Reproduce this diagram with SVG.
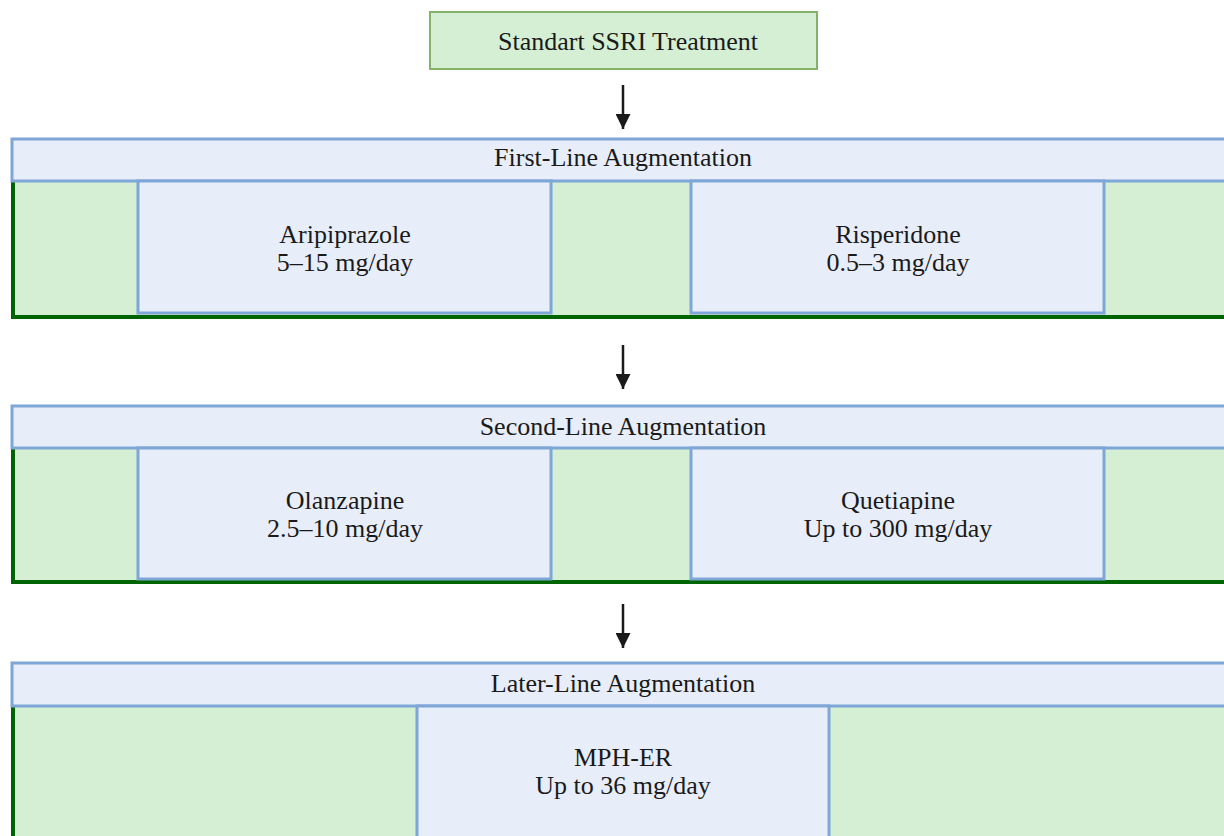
<svg xmlns="http://www.w3.org/2000/svg" width="1224" height="836" viewBox="0 0 1224 836">
<defs>
<style>
text{font-family:"Liberation Serif","Times New Roman",serif;font-size:26px;fill:#1a1a1a;text-anchor:middle}
.green{fill:#d5efd5;stroke:#82b366;stroke-width:2}
.hdr{fill:#e8eef9;stroke:#7ea6d6;stroke-width:3}
.body{fill:#d5efd5}
.edge{fill:none;stroke:#006400;stroke-width:4}
.drug{fill:#e8eef9;stroke:#7ea6d6;stroke-width:3}
.conn{stroke:#1a1a1a;stroke-width:2.5;fill:none}
</style>
<marker id="ah" viewBox="0 0 10 10" refX="10" refY="5" markerWidth="6" markerHeight="6" markerUnits="strokeWidth" orient="auto"><path d="M0,0 L10,5 L0,10 z" fill="#1a1a1a"/></marker>
</defs>
<rect width="1224" height="836" fill="#ffffff"/>

<g id="ssri">
<rect class="green" x="430" y="12" width="387" height="57"/>
<text x="628" y="50">Standart SSRI Treatment</text>
</g>

<g id="first-line">
<rect class="body" x="13" y="181" width="1220" height="136"/>
<path class="edge" d="M13,181 V317 H1230"/>
<rect class="hdr" x="12" y="139" width="1222" height="42"/>
<text x="623" y="166">First-Line Augmentation</text>
<g id="aripiprazole">
<rect class="drug" x="138" y="181" width="413" height="132"/>
<text x="345" y="243">Aripiprazole</text>
<text x="345" y="271">5–15 mg/day</text>
</g>
<g id="risperidone">
<rect class="drug" x="691" y="181" width="413" height="132"/>
<text x="898" y="243">Risperidone</text>
<text x="898" y="271">0.5–3 mg/day</text>
</g>
</g>

<g id="second-line">
<rect class="body" x="13" y="448" width="1220" height="134"/>
<path class="edge" d="M13,448 V582 H1230"/>
<rect class="hdr" x="12" y="406" width="1222" height="42"/>
<text x="623" y="435">Second-Line Augmentation</text>
<g id="olanzapine">
<rect class="drug" x="138" y="448" width="413" height="131"/>
<text x="345" y="509">Olanzapine</text>
<text x="345" y="537">2.5–10 mg/day</text>
</g>
<g id="quetiapine">
<rect class="drug" x="691" y="448" width="413" height="131"/>
<text x="898" y="509">Quetiapine</text>
<text x="898" y="537">Up to 300 mg/day</text>
</g>
</g>

<g id="later-line">
<rect class="body" x="13" y="706" width="1220" height="140"/>
<path class="edge" d="M13,706 V846"/>
<rect class="hdr" x="12" y="663" width="1222" height="43"/>
<text x="623" y="692">Later-Line Augmentation</text>
<g id="mph-er">
<rect class="drug" x="417" y="706" width="412" height="140"/>
<text x="623" y="766">MPH-ER</text>
<text x="623" y="794">Up to 36 mg/day</text>
</g>
</g>

<g id="connectors">
<line class="conn" x1="623" y1="85" x2="623" y2="129" marker-end="url(#ah)"/>
<line class="conn" x1="623" y1="345" x2="623" y2="389" marker-end="url(#ah)"/>
<line class="conn" x1="623" y1="604" x2="623" y2="648" marker-end="url(#ah)"/>
</g>
</svg>
